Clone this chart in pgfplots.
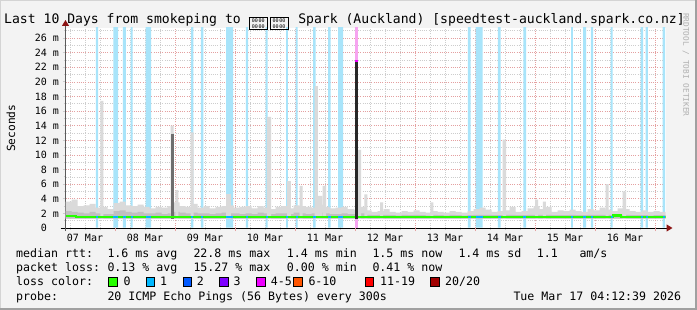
\documentclass[border=0pt]{standalone}
\usepackage{pgfplots}
\pgfplotsset{compat=1.18}
\usepackage{fontspec}
\setmainfont{DejaVu Sans Mono}
\usetikzlibrary{arrows.meta}
\definecolor{bg}{RGB}{243,243,243}
\definecolor{framedark}{RGB}{160,160,160}
\definecolor{framelight}{RGB}{212,212,212}
\definecolor{bandblue}{RGB}{168,228,250}
\definecolor{bandmag}{RGB}{246,164,240}
\definecolor{smokelight}{RGB}{218,218,218}
\definecolor{smokemid}{RGB}{192,192,192}
\definecolor{smokedark}{RGB}{110,110,110}
\definecolor{smokeblack}{RGB}{40,40,40}
\definecolor{loss0}{RGB}{38,255,0}
\definecolor{loss1}{RGB}{0,184,255}
\definecolor{loss2}{RGB}{0,89,255}
\definecolor{loss3}{RGB}{126,0,255}
\definecolor{loss4}{RGB}{238,0,255}
\definecolor{loss6}{RGB}{255,85,0}
\definecolor{loss11}{RGB}{255,0,0}
\definecolor{loss20}{RGB}{161,0,0}
\definecolor{gridred}{RGB}{228,160,160}
\definecolor{gridgray}{RGB}{205,205,205}
\definecolor{arrowred}{RGB}{140,20,20}
\definecolor{axisgray}{RGB}{90,90,90}
\definecolor{wm}{RGB}{175,175,175}
\newcommand\fs[1]{\fontsize{#1}{#1}\selectfont}
\newcommand\tofu{\makebox[20.85pt][l]{\raisebox{-3.4pt}{\setlength\fboxsep{0pt}\setlength\fboxrule{1pt}\fbox{\parbox[c][10.5pt][c]{17pt}{\centering\fontsize{5}{5.2}\selectfont 00\,00\\00\,00}}}}}
\begin{document}
\begin{tikzpicture}
\fill[bg] (0pt,0pt) rectangle (697pt,-310pt);
\useasboundingbox (0pt,0pt) rectangle (697pt,-310pt);
\fill[framelight] (0pt,0pt) rectangle (697pt,-1pt);
\fill[framelight] (0pt,0pt) rectangle (1pt,-310pt);
\fill[framedark] (0pt,-308pt) rectangle (697pt,-310pt);
\fill[framedark] (695pt,0pt) rectangle (697pt,-310pt);
\begin{axis}[
  at={(65.5pt,-228pt)}, anchor=south west,
  scale only axis, width=600pt, height=200pt,
  xmin=0.175, xmax=10.175, ymin=0, ymax=27.37,
  axis background/.style={fill=white},
  axis lines=left,
  x axis line style={black, line width=1pt, shorten <=-5pt, shorten >=-7pt, -{Triangle[length=6pt,width=7pt,color=arrowred]}},
  y axis line style={axisgray, line width=1pt, shorten <=-3pt, shorten >=-8pt, -{Triangle[length=6pt,width=7pt,color=arrowred]}},
  tick align=outside,
  major tick length=3pt, minor tick length=2pt,
  xtick={0.5,1.5,...,9.5},
  xticklabels={07 Mar,08 Mar,09 Mar,10 Mar,11 Mar,12 Mar,13 Mar,14 Mar,15 Mar,16 Mar},
  major x tick style={draw=none},
  minor xtick={0.25,0.5,...,10},
  minor x tick style={draw=gridgray, line width=0.8pt},
  extra x ticks={1,2,...,10},
  extra x tick labels={},
  extra x tick style={grid=major, major x tick style={draw=gridred, line width=0.8pt}, xticklabel style={opacity=0}},
  xmajorgrids=false, xminorgrids=true,
  ytick={0,2,...,26},
  yticklabels={0\hphantom{\ m},2 m,4 m,6 m,8 m,10 m,12 m,14 m,16 m,18 m,20 m,22 m,24 m,26 m},
  minor ytick={1,3,...,27},
  major y tick style={draw=gridgray, line width=0.8pt},
  minor y tick style={draw=gridgray, line width=0.8pt},
  ymajorgrids=true, yminorgrids=true,
  major grid style={draw=gridred, dash pattern=on 1pt off 1.2pt, line width=0.65pt},
  minor grid style={draw=gridgray, dash pattern=on 1pt off 1.2pt, line width=0.65pt},
  tick label style={font=\fs{10}, text=black},
  xticklabel style={anchor=base, yshift=-10.7pt},
]
% loss bands (1 of 20 lost)
\addplot[fill=bandblue, draw=none, unbounded coords=jump] coordinates {
(0.683,0.05)(0.683,28)(0.717,28)(0.717,0.05)(0.7,nan)
(0.972,0.05)(0.972,28)(1.050,28)(1.050,0.05)(1.0,nan)
(1.133,0.05)(1.133,28)(1.183,28)(1.183,0.05)(1.15,nan)
(1.262,0.05)(1.262,28)(1.295,28)(1.295,0.05)(1.28,nan)
(1.512,0.05)(1.512,28)(1.600,28)(1.600,0.05)(1.55,nan)
(2.267,0.05)(2.267,28)(2.305,28)(2.305,0.05)(2.28,nan)
(2.433,0.05)(2.433,28)(2.472,28)(2.472,0.05)(2.45,nan)
(2.850,0.05)(2.850,28)(2.967,28)(2.967,0.05)(2.9,nan)
(3.183,0.05)(3.183,28)(3.217,28)(3.217,0.05)(3.2,nan)
(3.512,0.05)(3.512,28)(3.545,28)(3.545,0.05)(3.53,nan)
(3.850,0.05)(3.850,28)(3.883,28)(3.883,0.05)(3.86,nan)
(4.012,0.05)(4.012,28)(4.045,28)(4.045,0.05)(4.03,nan)
(4.300,0.05)(4.300,28)(4.345,28)(4.345,0.05)(4.32,nan)
(4.550,0.05)(4.550,28)(4.595,28)(4.595,0.05)(4.57,nan)
(4.717,0.05)(4.717,28)(4.800,28)(4.800,0.05)(4.75,nan)
(6.883,0.05)(6.883,28)(6.928,28)(6.928,0.05)(6.9,nan)
(7.012,0.05)(7.012,28)(7.128,28)(7.128,0.05)(7.05,nan)
(7.383,0.05)(7.383,28)(7.428,28)(7.428,0.05)(7.4,nan)
(7.805,0.05)(7.805,28)(7.850,28)(7.850,0.05)(7.82,nan)
(8.600,0.05)(8.600,28)(8.633,28)(8.633,0.05)(8.62,nan)
(8.800,0.05)(8.800,28)(8.850,28)(8.850,0.05)(8.82,nan)
(8.933,0.05)(8.933,28)(8.967,28)(8.967,0.05)(8.95,nan)
(9.262,0.05)(9.262,28)(9.295,28)(9.295,0.05)(9.28,nan)
(9.762,0.05)(9.762,28)(9.800,28)(9.800,0.05)(9.78,nan)
(9.845,0.05)(9.845,28)(9.883,28)(9.883,0.05)(9.86,nan)
(10.128,0.05)(10.128,28)(10.167,28)(10.167,0.05)
};
% loss band (4-5 of 20 lost)
\addplot[fill=bandmag, draw=none] coordinates {(5.000,0.05)(5.000,28)(5.055,28)(5.055,0.05)};
% smoke: light envelope
\addplot[const plot, fill=smokelight, draw=none] coordinates {
(0.175,3.6)(0.275,3.9)(0.375,3.0)(0.475,3.1)(0.575,3.3)(0.675,2.8)(0.775,2.9)(0.875,2.6)(0.975,3.4)(1.075,3.6)
(1.175,3.1)(1.275,3.0)(1.375,3.2)(1.475,2.9)(1.575,2.7)(1.675,2.9)(1.775,2.8)(1.875,3.0)(1.975,3.5)(2.075,3.0)
(2.175,2.9)(2.275,3.3)(2.375,2.8)(2.475,3.0)(2.575,2.7)(2.675,2.9)(2.775,3.0)(2.875,3.1)(2.975,2.8)(3.075,2.9)
(3.175,3.0)(3.275,2.7)(3.375,3.0)(3.475,2.8)(3.575,2.6)(3.675,2.9)(3.775,3.0)(3.875,2.7)(3.975,3.1)(4.075,3.0)
(4.175,2.9)(4.275,2.8)(4.375,3.2)(4.475,2.9)(4.575,2.7)(4.675,2.8)(4.775,2.9)(4.875,2.6)(4.975,2.5)(5.075,2.9)
(5.175,2.4)(5.275,2.2)(5.375,2.3)(5.475,2.6)(5.575,2.2)(5.675,2.1)(5.775,2.3)(5.875,2.2)(5.975,2.4)(6.075,2.2)
(6.175,2.1)(6.275,2.3)(6.375,2.2)(6.475,2.1)(6.575,2.3)(6.675,2.2)(6.775,2.1)(6.875,2.3)(6.975,2.6)(7.075,2.8)
(7.175,2.5)(7.275,2.2)(7.375,2.3)(7.475,2.4)(7.575,2.9)(7.675,2.2)(7.775,2.3)(7.875,2.7)(7.975,3.0)(8.075,2.6)
(8.175,2.9)(8.275,2.2)(8.375,2.4)(8.475,2.3)(8.575,2.5)(8.675,2.3)(8.775,2.2)(8.875,2.6)(8.975,2.4)(9.075,2.8)
(9.175,2.5)(9.275,2.3)(9.375,2.7)(9.475,2.6)(9.575,2.3)(9.675,2.2)(9.775,2.4)(9.875,2.2)(9.975,2.3)(10.075,2.2)
(10.175,2.2)(10.175,1.3)(0.175,1.3)
};
% smoke: middle layer
\addplot[const plot, fill=smokemid, draw=none] coordinates {
(0.175,2.3)(0.275,2.2)(0.375,2.1)(0.475,2.0)(0.575,2.2)(0.675,2.0)(0.775,1.9)(0.875,1.9)(0.975,2.3)(1.075,2.4)
(1.175,2.2)(1.275,2.1)(1.375,2.2)(1.475,2.0)(1.575,2.0)(1.675,2.1)(1.775,1.9)(1.875,2.0)(1.975,2.2)(2.075,2.1)
(2.175,2.0)(2.275,2.1)(2.375,2.0)(2.475,2.0)(2.575,1.9)(2.675,2.0)(2.775,2.1)(2.875,2.0)(2.975,2.0)(3.075,1.9)
(3.175,2.0)(3.275,1.9)(3.375,2.1)(3.475,2.0)(3.575,1.9)(3.675,2.0)(3.775,2.0)(3.875,1.9)(3.975,2.1)(4.075,2.0)
(4.175,1.9)(4.275,2.0)(4.375,2.1)(4.475,2.0)(4.575,1.9)(4.675,1.9)(4.775,2.0)(4.875,1.9)(4.975,1.9)(5.075,2.0)
(5.175,1.8)(5.275,1.75)(5.375,1.8)(5.475,1.8)(5.575,1.75)(5.675,1.7)(5.775,1.8)(5.875,1.75)(5.975,1.8)(6.075,1.75)
(6.175,1.7)(6.275,1.8)(6.375,1.75)(6.475,1.7)(6.575,1.8)(6.675,1.75)(6.775,1.7)(6.875,1.75)(6.975,1.8)(7.075,1.8)
(7.175,1.8)(7.275,1.75)(7.375,1.75)(7.475,1.8)(7.575,1.8)(7.675,1.75)(7.775,1.75)(7.875,1.8)(7.975,1.8)(8.075,1.8)
(8.175,1.8)(8.275,1.75)(8.375,1.75)(8.475,1.75)(8.575,1.8)(8.675,1.75)(8.775,1.75)(8.875,1.8)(8.975,1.8)(9.075,1.8)
(9.175,1.8)(9.275,1.75)(9.375,1.8)(9.475,1.8)(9.575,1.75)(9.675,1.75)(9.775,1.75)(9.875,1.7)(9.975,1.75)(10.075,1.75)
(10.175,1.75)(10.175,1.3)(0.175,1.3)
};
% smoke spikes (max rtt)
\addplot[fill=smokelight, draw=none, unbounded coords=jump] coordinates {
(0.755,1.3)(0.755,17.4)(0.805,17.4)(0.805,1.3)(0.81,nan)
(1.925,1.3)(1.925,14.0)(1.975,14.0)(1.975,1.3)(1.98,nan)
(2.008,1.3)(2.008,5.2)(2.055,5.2)(2.055,1.3)(2.06,nan)
(2.260,1.3)(2.260,13.1)(2.310,13.1)(2.310,1.3)(2.32,nan)
(2.850,1.3)(2.850,4.65)(2.933,4.65)(2.933,1.3)(2.94,nan)
(3.533,1.3)(3.533,15.2)(3.600,15.2)(3.600,1.3)(3.61,nan)
(3.867,1.3)(3.867,6.4)(3.933,6.4)(3.933,1.3)(3.94,nan)
(4.075,1.3)(4.075,5.75)(4.125,5.75)(4.125,1.3)(4.13,nan)
(4.328,1.3)(4.328,19.4)(4.383,19.4)(4.383,1.3)(4.384,nan)
(4.383,1.3)(4.383,4.4)(4.450,4.4)(4.450,1.3)(4.455,nan)
(4.462,1.3)(4.462,5.75)(4.517,5.75)(4.517,1.3)(4.52,nan)
(5.045,1.3)(5.045,10.7)(5.100,10.7)(5.100,1.3)(5.11,nan)
(5.155,1.3)(5.155,4.6)(5.205,4.6)(5.205,1.3)(5.21,nan)
(5.417,1.3)(5.417,3.5)(5.467,3.5)(5.467,1.3)(5.47,nan)
(6.255,1.3)(6.255,3.5)(6.305,3.5)(6.305,1.3)(6.31,nan)
(7.462,1.3)(7.462,12.1)(7.517,12.1)(7.517,1.3)(7.52,nan)
(8.000,1.3)(8.000,3.9)(8.050,3.9)(8.050,1.3)(8.06,nan)
(8.133,1.3)(8.133,3.6)(8.183,3.6)(8.183,1.3)(8.19,nan)
(9.175,1.3)(9.175,6.0)(9.225,6.0)(9.225,1.3)(9.23,nan)
(9.462,1.3)(9.462,5.0)(9.517,5.0)(9.517,1.3)
};
\addplot[fill=smokedark, draw=none] coordinates {(1.925,1.3)(1.925,12.8)(1.975,12.8)(1.975,1.3)};
% median rtt, loss 0
\addplot[const plot, draw=loss0, line width=2.2pt] coordinates {
(0.175,1.62)(0.35,1.48)(1.2,1.55)(1.45,1.48)(1.9,1.55)(2.35,1.48)(3.9,1.52)(4.3,1.48)(5.1,1.47)(9.3,1.72)(9.43,1.47)(10.175,1.47)
};
% median rtt, loss 1
\addplot[draw=loss1, line width=2.2pt, unbounded coords=jump] coordinates {
(0.683,1.48)(0.717,1.48)(0.7,nan)
(0.972,1.48)(1.050,1.48)(1.0,nan)
(1.133,1.48)(1.183,1.48)(1.15,nan)
(1.262,1.55)(1.295,1.55)(1.28,nan)
(1.512,1.48)(1.600,1.48)(1.55,nan)
(2.267,1.48)(2.305,1.48)(2.28,nan)
(2.433,1.48)(2.472,1.48)(2.45,nan)
(2.850,1.48)(2.967,1.48)(2.9,nan)
(3.183,1.48)(3.217,1.48)(3.2,nan)
(3.512,1.48)(3.545,1.48)(3.53,nan)
(3.850,1.48)(3.883,1.48)(3.86,nan)
(4.012,1.52)(4.045,1.52)(4.03,nan)
(4.300,1.48)(4.345,1.48)(4.32,nan)
(4.550,1.48)(4.595,1.48)(4.57,nan)
(4.717,1.48)(4.800,1.48)(4.75,nan)
(6.883,1.47)(6.928,1.47)(6.9,nan)
(7.012,1.47)(7.128,1.47)(7.05,nan)
(7.383,1.47)(7.428,1.47)(7.4,nan)
(7.805,1.47)(7.850,1.47)(7.82,nan)
(8.600,1.47)(8.633,1.47)(8.62,nan)
(8.800,1.47)(8.850,1.47)(8.82,nan)
(8.933,1.47)(8.967,1.47)(8.95,nan)
(9.262,1.47)(9.295,1.47)(9.28,nan)
(9.762,1.47)(9.800,1.47)(9.78,nan)
(9.845,1.47)(9.883,1.47)(9.86,nan)
(10.128,1.47)(10.167,1.47)
};
% the 22.8 ms interval
\addplot[fill=smokeblack, draw=none] coordinates {(5.000,1.3)(5.000,22.9)(5.045,22.9)(5.045,1.3)};
\addplot[draw=loss4, line width=2.2pt] coordinates {(5.000,22.8)(5.045,22.8)};
\end{axis}
% title
\node[anchor=base west, inner sep=0pt, font=\fs{13.1}] at (4pt,-23.3pt) {Last 10 Days from smokeping to \tofu\tofu\ Spark (Auckland) [speedtest-auckland.spark.co.nz]};
% y label
\node[rotate=90, anchor=center, inner sep=0pt, font=\fs{11.2}] at (11pt,-128.3pt) {Seconds};
% watermark
\node[rotate=-90, anchor=west, inner sep=0pt, font=\fs{7.8}, text=wm] at (686pt,-13pt) {RRDTOOL / TOBI OETIKER};
% legend
\begin{scope}[every node/.style={anchor=base west, inner sep=0pt, font=\fs{11.6}}]
\node at (16pt,-258pt) {median rtt:};
\node at (107.3pt,-258pt) {1.6 ms avg};
\node at (193.3pt,-258pt) {22.8 ms max};
\node at (286.7pt,-258pt) {1.4 ms min};
\node at (372.3pt,-258pt) {1.5 ms now};
\node at (458.3pt,-258pt) {1.4 ms sd};
\node at (536.7pt,-258pt) {1.1};
\node at (579.3pt,-258pt) {am/s};
\node at (16pt,-272pt) {packet loss:};
\node at (107.3pt,-272pt) {0.13 \% avg};
\node at (193.3pt,-272pt) {15.27 \% max};
\node at (286.7pt,-272pt) {0.00 \% min};
\node at (372.3pt,-272pt) {0.41 \% now};
\node at (16pt,-286pt) {loss color:};
\node at (123.3pt,-286pt) {0};
\node at (160pt,-286pt) {1};
\node at (196.7pt,-286pt) {2};
\node at (233.3pt,-286pt) {3};
\node at (270.7pt,-286pt) {4-5};
\node at (308.3pt,-286pt) {6-10};
\node at (380pt,-286pt) {11-19};
\node at (445pt,-286pt) {20/20};
\node at (16pt,-300pt) {probe:};
\node at (107.3pt,-300pt) {20 ICMP Echo Pings (56 Bytes) every 300s};
\node at (513.3pt,-300pt) {Tue Mar 17 04:12:39 2026};
\end{scope}
\draw[fill=loss0, line width=0.9pt] (108.8pt,-277pt) rectangle (117.3pt,-286pt);
\draw[fill=loss1, line width=0.9pt] (146pt,-277pt) rectangle (154.3pt,-286pt);
\draw[fill=loss2, line width=0.9pt] (183pt,-277pt) rectangle (191.5pt,-286pt);
\draw[fill=loss3, line width=0.9pt] (219.6pt,-277pt) rectangle (228.1pt,-286pt);
\draw[fill=loss4, line width=0.9pt] (256.9pt,-277pt) rectangle (265.2pt,-286pt);
\draw[fill=loss6, line width=0.9pt] (293.6pt,-277pt) rectangle (302.4pt,-286pt);
\draw[fill=loss11, line width=0.9pt] (365.3pt,-277pt) rectangle (373.8pt,-286pt);
\draw[fill=loss20, line width=0.9pt] (430.3pt,-277pt) rectangle (439pt,-286pt);
\end{tikzpicture}
\end{document}
